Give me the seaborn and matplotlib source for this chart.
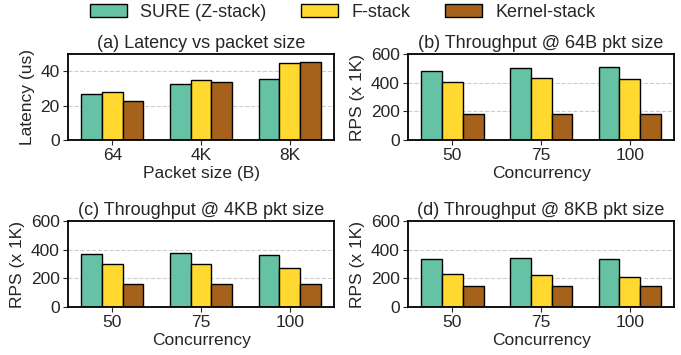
import pandas as pd
import matplotlib
matplotlib.use('Agg')
import matplotlib.pyplot as plt
import seaborn as sns

sns.set_style('ticks')
plt.rcParams['font.family'] = ['Liberation Sans', 'DejaVu Sans']

stacks = ['SURE (Z-stack)', 'F-stack', 'Kernel-stack']
colors = ['#66c2a5', '#ffd92f', '#a6611a']

pkt_sizes = ['64', '4K', '8K']
latency_sure = [26.5, 32.3, 35.4]
latency_fstack = [27.8, 34.8, 44.8]
latency_kernel = [22.4, 33.8, 45.2]

concurrency = ['50', '75', '100']
rps64_sure = [481, 504, 511]
rps64_fstack = [405, 435, 428]
rps64_kernel = [180, 180, 180]

rps4k_sure = [368, 377, 366]
rps4k_fstack = [297, 297, 274]
rps4k_kernel = [159, 159, 159]

rps8k_sure = [338, 345, 336]
rps8k_fstack = [228, 221, 207]
rps8k_kernel = [145, 145, 145]


def make_df(cats, a, b, c):
    rows = []
    for name, vals in zip(stacks, [a, b, c]):
        for cat, v in zip(cats, vals):
            rows.append({'cat': cat, 'stack': name, 'value': v})
    return pd.DataFrame(rows)


panels = [
    (make_df(pkt_sizes, latency_sure, latency_fstack, latency_kernel),
     '(a) Latency vs packet size', 'Packet size (B)', 'Latency (us)', 50, [0, 20, 40]),
    (make_df(concurrency, rps64_sure, rps64_fstack, rps64_kernel),
     '(b) Throughput @ 64B pkt size', 'Concurrency', 'RPS (x 1K)', 600, [0, 200, 400, 600]),
    (make_df(concurrency, rps4k_sure, rps4k_fstack, rps4k_kernel),
     '(c) Throughput @ 4KB pkt size', 'Concurrency', 'RPS (x 1K)', 600, [0, 200, 400, 600]),
    (make_df(concurrency, rps8k_sure, rps8k_fstack, rps8k_kernel),
     '(d) Throughput @ 8KB pkt size', 'Concurrency', 'RPS (x 1K)', 600, [0, 200, 400, 600]),
]

fig, axes = plt.subplots(2, 2, figsize=(6.81, 3.55), dpi=100)
fig.subplots_adjust(left=0.1, right=0.99, top=0.848, bottom=0.135, wspace=0.278, hspace=0.94)

for ax, (df, title, xlabel, ylabel, ymax, yticks) in zip(axes.flat, panels):
    sns.barplot(data=df, x='cat', y='value', hue='stack', palette=colors,
                width=0.7, edgecolor='black', linewidth=1, saturation=1,
                ax=ax, legend=False)
    ax.set_ylim(0, ymax)
    ax.set_yticks(yticks)
    ax.set_xlim(-0.5, 2.5)
    ax.yaxis.grid(True, linestyle='--', color='#cccccc', linewidth=0.8)
    ax.set_axisbelow(True)
    ax.set_title(title, fontsize=13, pad=4)
    ax.set_xlabel(xlabel, fontsize=12.5, labelpad=2)
    ax.set_ylabel(ylabel, fontsize=12.5, labelpad=4)
    ax.tick_params(labelsize=12.5, length=3.5, width=0.8, pad=2.5)
    for s in ax.spines.values():
        s.set_linewidth(1.3)
        s.set_color('black')

handles = [plt.Rectangle((0, 0), 1, 1, facecolor=c, edgecolor='black', linewidth=1) for c in colors]
fig.legend(handles, stacks, loc='upper center', bbox_to_anchor=(0.503, 1.035), ncol=3,
           frameon=False, fontsize=13, handlelength=2.05, handleheight=0.75,
           columnspacing=1.9, handletextpad=0.75)

fig.savefig('out.png', dpi=100)
